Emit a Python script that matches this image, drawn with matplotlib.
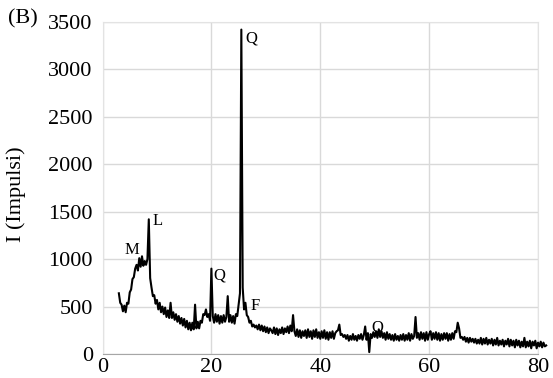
import numpy as np
import matplotlib
matplotlib.use("Agg")
import matplotlib.pyplot as plt

plt.rcParams['font.family'] = ['Liberation Serif', 'DejaVu Serif']

# Diffrattogramma: 2theta da 3 a 81.5 gradi, passo 0.25
theta_start = 3.0
theta_step = 0.25
intensity = [
    640, 540, 520, 450, 510, 440, 540, 530, 650, 680, 790, 810, 900, 940, 880, 1010, 920, 1030, 930, 980,  # 3 - 7.75
    940, 1000, 1420, 800, 700, 610, 620, 530, 570, 470, 540, 440, 500, 420, 490, 390, 460, 380, 540, 380,  # 8 - 12.75
    440, 360, 420, 340, 400, 320, 380, 300, 370, 280, 350, 260, 330, 250, 330, 260, 520, 270, 340, 270,    # 13 - 17.75
    350, 330, 420, 410, 470, 390, 420, 350, 900, 400, 330, 420, 340, 410, 320, 400, 330, 410, 340, 390,    # 18 - 22.75
    610, 340, 410, 330, 400, 320, 420, 400, 520, 640, 3420, 700, 470, 540, 410, 390, 330, 350, 290, 310,   # 23 - 27.75
    280, 300, 260, 310, 250, 300, 240, 290, 230, 280, 220, 270, 250, 220, 280, 210, 270, 200, 260, 220,    # 28 - 32.75
    280, 210, 270, 230, 290, 220, 300, 240, 410, 240, 190, 260, 180, 250, 170, 240, 190, 250, 170, 260,    # 33 - 37.75
    180, 240, 160, 250, 180, 260, 170, 230, 160, 240, 170, 250, 160, 230, 150, 230, 170, 240, 160, 220,    # 38 - 42.75
    240, 250, 310, 200, 210, 180, 200, 160, 200, 140, 190, 150, 210, 150, 190, 140, 200, 160, 210, 150,    # 43 - 47.75
    200, 290, 150, 220, 20, 210, 170, 230, 180, 240, 170, 260, 180, 240, 170, 220, 150, 230, 160, 210,     # 48 - 52.75
    150, 200, 140, 210, 150, 190, 140, 200, 150, 210, 140, 200, 150, 220, 140, 210, 160, 190, 390, 170,    # 53 - 57.75
    220, 150, 230, 160, 220, 140, 230, 150, 210, 240, 150, 220, 160, 230, 150, 220, 140, 210, 150, 220,    # 58 - 62.75
    160, 220, 140, 210, 150, 220, 160, 240, 230, 330, 270, 170, 180, 150, 180, 130, 170, 120, 170, 130,    # 63 - 67.75
    160, 120, 160, 110, 150, 110, 170, 100, 160, 110, 170, 100, 150, 110, 160, 90, 150, 100, 170, 90,      # 68 - 72.75
    140, 100, 150, 80, 140, 100, 160, 80, 150, 90, 140, 70, 150, 90, 140, 70, 130, 80, 170, 70,            # 73 - 77.75
    130, 80, 140, 60, 130, 90, 140, 60, 120, 80, 130, 70, 120, 80, 90,                                     # 78 - 81.5
]
theta = theta_start + theta_step * np.arange(len(intensity))

# etichette delle fasi: (testo, 2theta, I)
etichette = [
    ("Q", 26.3, 3330),
    ("L", 9.2, 1400),
    ("M", 4.1, 1095),
    ("Q", 20.3, 825),
    ("F", 27.2, 505),
    ("Q", 49.4, 277),
]

fig = plt.figure(figsize=(5.53, 3.78), dpi=100)
ax = fig.add_axes([0.1854, 0.0635, 0.7875, 0.8783])

ax.plot(theta, intensity, color='black', linewidth=1.5, clip_on=False, zorder=3)

for testo, x, y in etichette:
    ax.text(x, y, testo, fontsize=12, ha='left', va='center', zorder=4)

ax.set_xlim(0, 80)
ax.set_ylim(0, 3500)
ax.set_xticks([0, 20, 40, 60, 80])
ax.set_yticks(range(0, 3501, 500))
ax.grid(True, color='#d9d9d9', linewidth=1.0)
ax.set_axisbelow(True)
ax.tick_params(length=0, labelsize=16)
ax.tick_params(axis='x', pad=3)
ax.tick_params(axis='y', pad=7)
for s in ['top', 'right', 'left']:
    ax.spines[s].set_color('#e3e3e3')
ax.spines['bottom'].set_color('#a6a6a6')

ax.set_ylabel('I (Impulsi)', fontsize=16)
ax.yaxis.set_label_coords(-0.175, 0.48)
fig.text(0.015, 0.95, '(B)', fontsize=16, va='center')

fig.savefig('out.png', dpi=100)
